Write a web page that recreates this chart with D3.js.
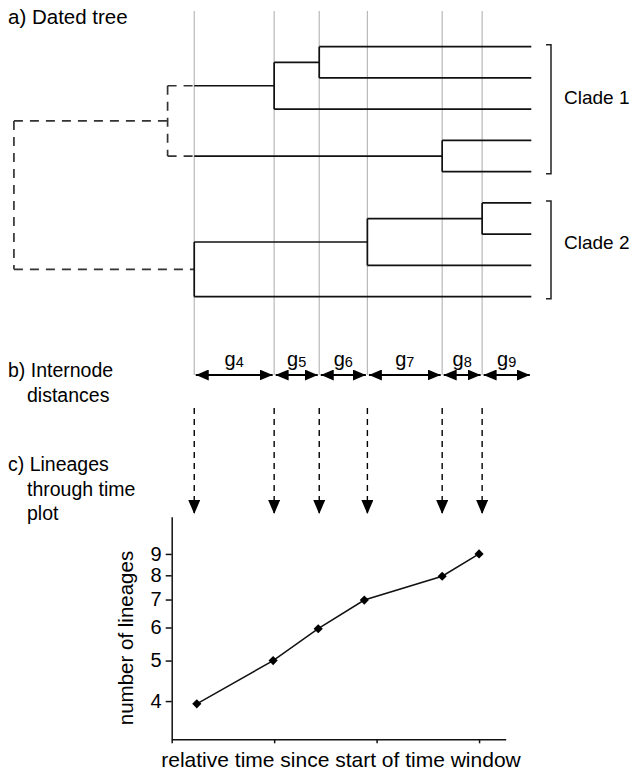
<!DOCTYPE html>
<html>
<head>
<meta charset="utf-8">
<script src="https://cdn.jsdelivr.net/npm/d3@7"></script>
<style>
  body { margin: 0; background: #fff; }
  svg { display: block; font-family: 'Liberation Sans', Arial, Helvetica, sans-serif; }
</style>
</head>
<body>
<svg id="chart" width="632" height="773"></svg>
<script>
// dated tree, nodes in pre-order (time in units of the LTT x axis)
const nodeIds = ['root', 'clade1', 'a', 'b', 't1', 't2', 't3', 'c', 't4', 't5', 'clade2', 'e', 'f', 't6', 't7', 't8', 't9'];
const nodeParents = ['', 'root', 'clade1', 'a', 'b', 'b', 'a', 'clade1', 'c', 'c', 'root', 'clade2', 'e', 'f', 'f', 'e', 'clade2'];
const nodeTimes = [-1.54, -0.04, 1.0, 1.44, 3.51, 3.51, 3.51, 2.64, 3.51, 3.51, 0.22, 1.91, 3.03, 3.51, 3.51, 3.51, 3.51];
const windowStart = 0.22; // start of time window, older branches are dashed

const cladeNames = ['Clade 1', 'Clade 2'];
const cladeLeaves = [[0, 4], [5, 8]];

// internode distances g4..g9
const gapSubs = ['4', '5', '6', '7', '8', '9'];

// lineages through time
const lttTime = [0.245, 0.99, 1.43, 1.88, 2.64, 3.0];
const lttLineages = [3.94, 5.0, 5.96, 6.98, 7.96, 9.0];
const yTicks = [4, 5, 6, 7, 8, 9];
const xTicks = [0, 1, 2, 3];

const svg = d3.select('#chart');
const ink = '#111';
const grey = '#b9b9b9';

const x = d3.scaleLinear().domain([0, 3.26]).range([171.7, 505.7]);
const leafY = d3.scaleLinear().domain([0, 8]).range([46.7, 296.7]);
const y = d3.scaleLog().domain([3.24, 11.05]).range([739.3, 516.7]);

// arrow heads
const defs = svg.append('defs');
defs
  .append('marker')
  .attr('id', 'head')
  .attr('viewBox', '0 -5.5 13 11')
  .attr('refX', 13)
  .attr('refY', 0)
  .attr('markerWidth', 13)
  .attr('markerHeight', 11)
  .attr('markerUnits', 'userSpaceOnUse')
  .attr('orient', 'auto-start-reverse')
  .append('path')
  .attr('d', 'M0,-5.5L13,0L0,5.5Z')
  .attr('fill', '#000');
defs
  .append('marker')
  .attr('id', 'down')
  .attr('viewBox', '0 -6 14 12')
  .attr('refX', 14)
  .attr('refY', 0)
  .attr('markerWidth', 14)
  .attr('markerHeight', 12)
  .attr('markerUnits', 'userSpaceOnUse')
  .attr('orient', 'auto')
  .append('path')
  .attr('d', 'M0,-6L14,0L0,6Z')
  .attr('fill', '#000');

// build the tree
const rows = nodeIds.map((id, i) => ({ id, parent: nodeParents[i], time: nodeTimes[i] }));
const root = d3
  .stratify()
  .id(d => d.id)
  .parentId(d => d.parent || null)(rows);

root.leaves().forEach((leaf, i) => {
  leaf.y = leafY(i);
});
root.eachAfter(n => {
  if (n.children) n.y = (n.children[0].y + n.children[n.children.length - 1].y) / 2;
});

const internal = root.descendants().filter(n => n.children && n.data.time >= windowStart);
const splitTimes = internal.map(n => n.data.time).sort((a, b) => a - b);

// grey guide lines at each split inside the window
svg
  .append('g')
  .attr('class', 'guides')
  .selectAll('line')
  .data(splitTimes)
  .enter()
  .append('line')
  .attr('x1', d => x(d))
  .attr('x2', d => x(d))
  .attr('y1', 11)
  .attr('y2', 375)
  .attr('stroke', grey)
  .attr('stroke-width', 1.2);

// branches
let segs = [];
root.descendants().forEach(n => {
  if (n.parent) {
    let t0 = n.parent.data.time,
      t1 = n.data.time;
    if (t0 < windowStart) {
      segs.push({ x1: t0, x2: Math.min(t1, windowStart), y1: n.y, y2: n.y, dashed: true });
      if (t1 > windowStart) segs.push({ x1: windowStart, x2: t1, y1: n.y, y2: n.y, dashed: false });
    } else {
      segs.push({ x1: t0, x2: t1, y1: n.y, y2: n.y, dashed: false });
    }
  }
  if (n.children) {
    let first = n.children[0],
      last = n.children[n.children.length - 1];
    segs.push({ x1: n.data.time, x2: n.data.time, y1: first.y, y2: last.y, dashed: n.data.time < windowStart });
  }
});

svg
  .append('g')
  .attr('class', 'tree')
  .selectAll('line')
  .data(segs)
  .enter()
  .append('line')
  .attr('x1', d => x(d.x1))
  .attr('x2', d => x(d.x2))
  .attr('y1', d => d.y1)
  .attr('y2', d => d.y2)
  .attr('stroke', d => (d.dashed ? '#333' : ink))
  .attr('stroke-width', 1.7)
  .attr('stroke-dasharray', d => (d.dashed ? '9,7' : null));

// clade brackets
const leaves = root.leaves();
const clade = svg
  .append('g')
  .attr('class', 'clades')
  .selectAll('g')
  .data(cladeNames)
  .enter()
  .append('g');
clade
  .append('path')
  .attr('d', (d, i) => {
    let top = leaves[cladeLeaves[i][0]].y - 2,
      bot = leaves[cladeLeaves[i][1]].y + 2;
    return `M546,${top}H551V${bot}H546`;
  })
  .attr('fill', 'none')
  .attr('stroke', '#222')
  .attr('stroke-width', 1.5);
clade
  .append('text')
  .attr('x', 564)
  .attr('y', (d, i) => (leaves[cladeLeaves[i][0]].y + leaves[cladeLeaves[i][1]].y) / 2 - (i === 0 ? 5 : 1))
  .attr('font-size', 19)
  .attr('fill', '#000')
  .text(d => d);

// internode distance arrows
const gapEnds = splitTimes.concat([nodeTimes[nodeTimes.length - 1]]);
const gaps = gapSubs.map((s, i) => ({ sub: s, t0: gapEnds[i], t1: gapEnds[i + 1] }));
const gap = svg
  .append('g')
  .attr('class', 'gaps')
  .selectAll('g')
  .data(gaps)
  .enter()
  .append('g');
gap
  .append('line')
  .attr('x1', d => x(d.t0) + 1.5)
  .attr('x2', d => x(d.t1) - 1.5)
  .attr('y1', 375)
  .attr('y2', 375)
  .attr('stroke', '#000')
  .attr('stroke-width', 1.8)
  .attr('marker-start', 'url(#head)')
  .attr('marker-end', 'url(#head)');
let gl = gap
  .append('text')
  .attr('x', d => (x(d.t0) + x(d.t1)) / 2)
  .attr('y', 366)
  .attr('text-anchor', 'middle')
  .attr('font-size', 20)
  .attr('fill', '#000');
gl.append('tspan').text('g');
gl.append('tspan')
  .attr('font-size', 14.5)
  .attr('dy', 1)
  .text(d => d.sub);

// dashed arrows down to the LTT plot
svg
  .append('g')
  .attr('class', 'drops')
  .selectAll('line')
  .data(splitTimes)
  .enter()
  .append('line')
  .attr('x1', d => x(d))
  .attr('x2', d => x(d))
  .attr('y1', 408)
  .attr('y2', 514)
  .attr('stroke', '#000')
  .attr('stroke-width', 1.4)
  .attr('stroke-dasharray', '6,5')
  .attr('marker-end', 'url(#down)');

// section labels
const labels = [
  { y: 24, size: 20.5, lines: ['a) Dated tree'] },
  { y: 377, size: 19.5, lines: ['b) Internode', 'distances'] },
  { y: 471, size: 19.5, lines: ['c) Lineages', 'through time', 'plot'] }
];
const lab = svg
  .append('g')
  .attr('class', 'labels')
  .selectAll('text')
  .data(labels)
  .enter()
  .append('text')
  .attr('font-size', d => d.size)
  .attr('fill', '#000');
lab
  .selectAll('tspan')
  .data(d => d.lines.map((l, i) => ({ l, i, y: d.y })))
  .enter()
  .append('tspan')
  .attr('x', d => (d.i === 0 ? 8 : 27))
  .attr('y', d => d.y + d.i * 24.5)
  .text(d => d.l);

// LTT plot axes
svg
  .append('g')
  .attr('class', 'axis y')
  .attr('transform', `translate(${x(0)}, 0)`)
  .call(
    d3
      .axisLeft(y)
      .tickValues(yTicks)
      .tickFormat(d3.format('d'))
      .tickSize(6)
      .tickSizeOuter(0)
      .tickPadding(4)
  );
svg
  .append('g')
  .attr('class', 'axis x')
  .attr('transform', `translate(0, ${y.range()[0]})`)
  .call(
    d3
      .axisBottom(x)
      .tickValues(xTicks)
      .tickFormat('')
      .tickSize(4)
      .tickSizeOuter(0)
  );
svg.selectAll('.axis').attr('font-family', null);
svg.selectAll('.axis path, .axis line').attr('stroke', ink).attr('stroke-width', 1.5);
svg
  .selectAll('.axis text')
  .attr('font-size', 20)
  .attr('fill', '#000');

svg
  .append('text')
  .attr('transform', `translate(133, 638) rotate(-90)`)
  .attr('text-anchor', 'middle')
  .attr('font-size', 20.5)
  .attr('fill', '#000')
  .text('number of lineages');

svg
  .append('text')
  .attr('transform', `translate(341, 767)`)
  .attr('text-anchor', 'middle')
  .attr('font-size', 21)
  .attr('fill', '#000')
  .text('relative time since start of time window');

// LTT line and points
const line = d3
  .line()
  .x((d, i) => x(lttTime[i]))
  .y(d => y(d));
svg
  .append('path')
  .datum(lttLineages)
  .attr('d', line)
  .attr('fill', 'none')
  .attr('stroke', ink)
  .attr('stroke-width', 1.5);
svg
  .append('g')
  .attr('class', 'points')
  .selectAll('path')
  .data(lttLineages)
  .enter()
  .append('path')
  .attr('d', d3.symbol().type(d3.symbolSquare).size(42))
  .attr('transform', (d, i) => `translate(${x(lttTime[i])}, ${y(d)}) rotate(45)`)
  .attr('fill', '#000');
</script>
</body>
</html>
